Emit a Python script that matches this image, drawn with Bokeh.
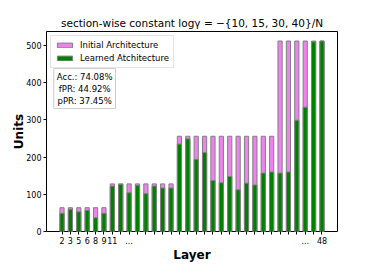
from bokeh.plotting import figure
from bokeh.models import ColumnDataSource, FixedTicker, Legend, LegendItem, Label, Range1d
from bokeh.embed import file_html
from bokeh.resources import INLINE

# ---- data ----
layer_idx = list(range(32))
initial_units = [64] * 6 + [128] * 8 + [256] * 12 + [512] * 6
learned_units = [49, 60, 53, 57, 37, 49,
                 122, 127, 104, 124, 102, 122, 117, 117,
                 235, 249, 194, 212, 137, 131, 148, 112, 130, 125, 157, 160,
                 157, 160, 299, 334, 510, 512]
tick_labels = {0: "2", 1: "3", 2: "5", 3: "6", 4: "8", 5: "9", 6: "11",
               8: "...", 29: "...", 31: "48"}
stats_text = "Acc.: 74.08%\nfPR: 44.92%\npPR: 37.45%"
title_text = "section-wise constant log\u03b3 = \u2212{10, 15, 30, 40}/N"
x_label = "Layer"
y_label = "Units"

FONT = "DejaVu Sans"

src = ColumnDataSource(dict(x=layer_idx, init=initial_units, learned=learned_units))

p = figure(width=358, height=264, output_backend="svg", toolbar_location=None,
           x_range=Range1d(-1.85, 32.85), y_range=Range1d(0, 537.6),
           min_border_left=46, min_border_right=21, min_border_top=31, min_border_bottom=0)
p.border_fill_color = "white"

p.title.text = title_text
p.title.align = "center"
p.title.text_font = FONT
p.title.text_font_size = "10.5px"
p.title.text_font_style = "normal"
p.title.text_color = "black"
p.title.standoff = 6

r_init = p.vbar(x="x", top="init", width=0.5, source=src, fill_color="#EE82EE",
                line_color="#808080", line_width=1)
r_learn = p.vbar(x="x", top="learned", width=0.5, source=src, fill_color="#008000",
                 line_color="#808080", line_width=1)

p.grid.visible = False
p.outline_line_color = "black"
p.outline_line_width = 1
p.outline_line_alpha = 1

p.xaxis.ticker = FixedTicker(ticks=layer_idx)
p.xaxis.major_label_overrides = {i: tick_labels.get(i, "") for i in layer_idx}
p.yaxis.ticker = FixedTicker(ticks=[0, 100, 200, 300, 400, 500])

for ax in (p.xaxis[0], p.yaxis[0]):
    ax.axis_line_color = None
    ax.major_tick_in = 0
    ax.major_tick_out = 3
    ax.major_tick_line_color = "black"
    ax.minor_tick_line_color = None
    ax.major_label_text_font = FONT
    ax.major_label_text_font_size = "8px"
    ax.major_label_text_color = "black"
    ax.major_label_standoff = 2
    ax.axis_label_text_font = FONT
    ax.axis_label_text_font_size = "12px"
    ax.axis_label_text_font_style = "bold"
    ax.axis_label_text_color = "black"
    ax.axis_label_standoff = 1

p.xaxis.axis_label = x_label
p.yaxis.axis_label = y_label
p.yaxis.axis_label_standoff = -3

legend = Legend(items=[LegendItem(label="Initial Architecture", renderers=[r_init]),
                       LegendItem(label="Learned Atchitecture", renderers=[r_learn])],
                location="top_left", margin=4, padding=4, spacing=3,
                glyph_width=19, glyph_height=6, label_height=9, label_standoff=6,
                label_text_font=FONT, label_text_font_size="8.5px",
                label_text_color="black",
                border_line_color="#cccccc", border_line_width=1,
                background_fill_color="white", background_fill_alpha=0.8)
p.add_layout(legend, "center")

lbl = Label(x=2.7, y=438, text=stats_text,
            text_font=FONT, text_font_size="8.5px", text_align="center",
            text_baseline="top", text_color="black", padding=3,
            border_line_color="#cccccc", border_line_width=1,
            background_fill_color="white")
p.add_layout(lbl)

open("out.html", "w").write(file_html(p, INLINE))
